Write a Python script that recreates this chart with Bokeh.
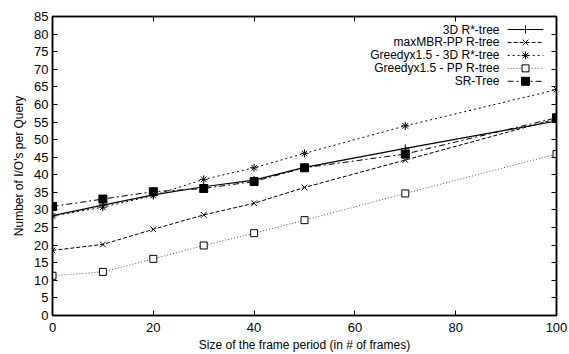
from bokeh.plotting import figure
from bokeh.models import Range1d, LinearAxis, SingleIntervalTicker, CustomJSTickFormatter
from bokeh.core.properties import value
from bokeh.embed import file_html
from bokeh.resources import INLINE

frames = [0, 10, 20, 30, 40, 50, 70, 100]
rstar3d = [28.4, 31.4, 34.3, 36.6, 38.5, 42.1, 47.5, 55.3]
maxmbr = [18.5, 20.2, 24.5, 28.6, 31.9, 36.4, 44.2, 55.9]
greedy_3d = [28.3, 30.8, 34.1, 38.7, 42.0, 46.1, 53.9, 64.2]
greedy_pp = [11.3, 12.4, 16.1, 19.9, 23.4, 27.1, 34.7, 45.9]
srtree = [31.0, 33.1, 35.2, 36.1, 38.1, 42.0, 45.9, 56.2]

names = ["3D R*-tree", "maxMBR-PP R-tree", "Greedyx1.5 - 3D R*-tree",
         "Greedyx1.5 - PP R-tree", "SR-Tree"]

FONT = "Liberation Sans"

p = figure(width=569, height=354, output_backend="svg", toolbar_location=None,
           x_range=Range1d(0, 100), y_range=Range1d(0, 85),
           min_border_left=52, min_border_right=13, min_border_top=16,
           min_border_bottom=38)
p.grid.visible = False
p.background_fill_color = "white"
p.border_fill_color = "white"
p.outline_line_color = "black"
p.outline_line_width = 1.5

def style_axis(ax):
    ax.major_tick_in = 5
    ax.major_tick_out = 0
    ax.minor_tick_in = 0
    ax.minor_tick_out = 0
    ax.axis_line_color = "black"
    ax.axis_line_width = 1.5
    ax.major_tick_line_color = "black"
    ax.major_label_text_font = FONT
    ax.major_label_text_font_size = "13px"
    ax.major_label_text_color = "black"
    ax.axis_label_text_font = FONT
    ax.axis_label_text_font_size = "12px"
    ax.axis_label_text_font_style = "normal"
    ax.axis_label_text_color = "black"

p.xaxis.ticker = SingleIntervalTicker(interval=20)
p.yaxis.ticker = SingleIntervalTicker(interval=5)
style_axis(p.xaxis[0])
style_axis(p.yaxis[0])
p.xaxis.axis_label = "Size of the frame period (in # of frames)"
p.yaxis.axis_label = "Number of I/O's per Query"
p.xaxis.major_label_standoff = 7
p.xaxis.axis_label_standoff = 3
p.yaxis.major_label_standoff = 4
p.yaxis.axis_label_standoff = 5

blank = CustomJSTickFormatter(code="return '';")
top = LinearAxis(ticker=SingleIntervalTicker(interval=20), formatter=blank)
right = LinearAxis(ticker=SingleIntervalTicker(interval=5), formatter=blank)
for ax in (top, right):
    style_axis(ax)
    ax.major_label_standoff = 0
p.add_layout(top, "above")
p.add_layout(right, "right")

styles = [
    dict(color="black", dash="solid", marker="cross", fill=None, lw=1.2, size=8),
    dict(color="black", dash="4 2", marker="x", fill=None, lw=1.0, size=8),
    dict(color="black", dash="2 3", marker="asterisk", fill=None, lw=1.0, size=8),
    dict(color="#555555", dash="1 2", marker="square", fill="white", lw=1.0, size=7),
    dict(color="black", dash="6 3 2 3", marker="square", fill="black", lw=1.0, size=8),
]
series = [rstar3d, maxmbr, greedy_3d, greedy_pp, srtree]

# legend layout (data coordinates, right-aligned labels, sample to the right)
leg_text_x = 88.7
leg_line_x0, leg_line_x1 = 90.3, 97.4
leg_y0, leg_dy = 81.3, 3.68

for i, (ys, st, name) in enumerate(zip(series, styles, names)):
    p.line(frames, ys, line_color=st["color"], line_dash=st["dash"], line_width=st["lw"])
    kw = dict(marker=st["marker"], size=st["size"], line_color="black", line_width=1.0)
    if st["fill"] is None:
        kw["fill_alpha"] = 0
    else:
        kw["fill_color"] = st["fill"]
    p.scatter(frames, ys, **kw)
    ly = leg_y0 - i * leg_dy
    p.text([leg_text_x], [ly], text=[name], text_align="right", text_baseline="middle",
           text_font=value(FONT), text_font_size="12px", text_color="black")
    p.line([leg_line_x0, leg_line_x1], [ly, ly], line_color=st["color"],
           line_dash=st["dash"], line_width=st["lw"])
    p.scatter([(leg_line_x0 + leg_line_x1) / 2], [ly], **kw)

open("out.html", "w").write(file_html(p, INLINE))
